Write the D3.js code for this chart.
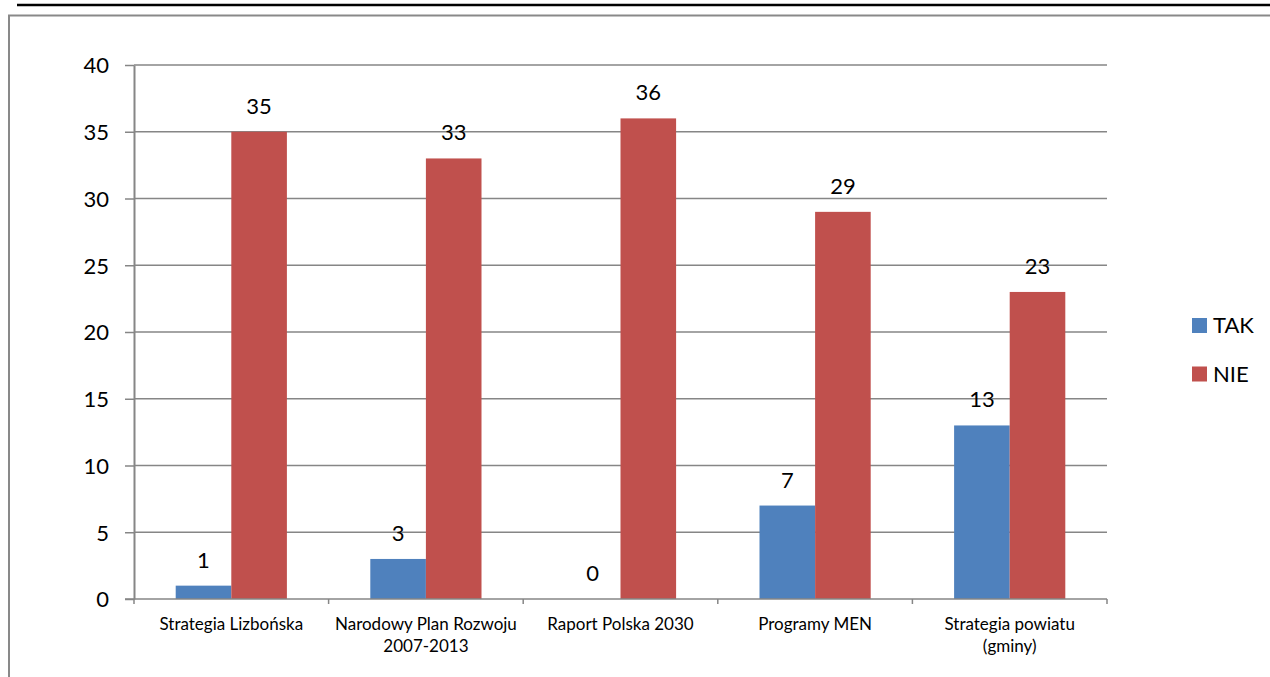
<!DOCTYPE html>
<html>
<head>
<meta charset="utf-8">
<script src="https://cdn.jsdelivr.net/npm/d3@7"></script>
<style>
  html, body { margin: 0; padding: 0; background: #fff; }
  svg { display: block; }
  text { font-family: Lato, "Open Sans", sans-serif; fill: #000; }
</style>
</head>
<body>
<svg id="chart" width="1270" height="677"></svg>
<script>
const categories = [
  "Strategia Lizbońska",
  "Narodowy Plan Rozwoju\n2007-2013",
  "Raport Polska 2030",
  "Programy MEN",
  "Strategia powiatu\n(gminy)"
];
const seriesNames = ["TAK", "NIE"];
const takValues = [1, 3, 0, 7, 13];
const nieValues = [35, 33, 36, 29, 23];
const yTicks = [0, 5, 10, 15, 20, 25, 30, 35, 40];
const colors = ["#4F81BD", "#C0504D"];

(function () {
const svg = d3.select("#chart");
const W = 1270, H = 677;

// page frame
svg.append("line").attr("x1", 17).attr("x2", W).attr("y1", 5).attr("y2", 5)
  .attr("stroke", "#000").attr("stroke-width", 2.5);
svg.append("rect").attr("x", 9).attr("y", 15.5).attr("width", W + 20).attr("height", H + 20)
  .attr("fill", "none").attr("stroke", "#898989").attr("stroke-width", 2);

const pLeft = 134, pRight = 1107, pTop = 65, pBottom = 599;
const x = d3.scaleBand().domain(categories).range([pLeft, pRight]).paddingInner(0).paddingOuter(0);
const xs = d3.scaleBand().domain(seriesNames).range([0, x.bandwidth()]).paddingInner(0).paddingOuter(0.75);
const y = d3.scaleLinear().domain([0, 40]).range([pBottom, pTop]);

const axisColor = "#868686";

// gridlines
svg.append("g").selectAll("line").data(yTicks.filter(t => t > 0)).join("line")
  .attr("x1", pLeft).attr("x2", pRight)
  .attr("y1", d => y(d)).attr("y2", d => y(d))
  .attr("stroke", axisColor).attr("stroke-width", 1.5);

// bars
const data = categories.map((c, i) => ({ cat: c, vals: [takValues[i], nieValues[i]] }));
const groups = svg.append("g").selectAll("g").data(data).join("g")
  .attr("transform", d => `translate(${x(d.cat)},0)`);
groups.selectAll("rect").data(d => d.vals.map((v, j) => ({ v, s: seriesNames[j], j })))
  .join("rect")
  .attr("x", d => xs(d.s)).attr("width", xs.bandwidth())
  .attr("y", d => y(d.v)).attr("height", d => y(0) - y(d.v))
  .attr("fill", d => colors[d.j]);
groups.selectAll("text.lbl").data(d => d.vals.map((v, j) => ({ v, s: seriesNames[j] })))
  .join("text").attr("class", "lbl")
  .attr("x", d => xs(d.s) + xs.bandwidth() / 2)
  .attr("y", d => y(d.v) - 18)
  .attr("text-anchor", "middle")
  .attr("font-size", 22)
  .text(d => d.v);

// y axis
const yAxis = d3.axisLeft(y).tickValues(yTicks).tickSizeInner(9).tickSizeOuter(0).tickPadding(16);
const gy = svg.append("g").attr("transform", `translate(${pLeft},0)`).call(yAxis);
gy.select(".domain").attr("stroke", axisColor).attr("stroke-width", 2);
gy.selectAll(".tick line").attr("stroke", axisColor).attr("stroke-width", 1.5);
gy.selectAll(".tick text").attr("font-size", 22).attr("font-family", "Lato, sans-serif")
  .attr("fill", "#000").attr("dy", "0.36em");

// x axis baseline and boundary ticks
const boundaries = d3.range(categories.length + 1).map(i => x.range()[0] + i * x.step());
const gx = svg.append("g");
gx.append("line").attr("x1", pLeft - 9).attr("x2", pRight).attr("y1", y(0)).attr("y2", y(0))
  .attr("stroke", axisColor).attr("stroke-width", 1.5);
gx.selectAll("line.bt").data(boundaries).join("line").attr("class", "bt")
  .attr("x1", d => d).attr("x2", d => d)
  .attr("y1", y(0)).attr("y2", y(0) + 5)
  .attr("stroke", axisColor).attr("stroke-width", 1.5);
gx.selectAll("text").data(categories).join("text")
  .attr("text-anchor", "middle")
  .attr("font-size", 17)
  .attr("transform", d => `translate(${x(d) + x.bandwidth() / 2},${y(0) + 31})`)
  .each(function (d) {
    d.split("\n").forEach((line, i) => {
      d3.select(this).append("tspan").attr("x", 0).attr("y", i * 22).text(line);
    });
  });

// legend
const lg = svg.append("g").attr("transform", "translate(1192,0)");
seriesNames.forEach((s, i) => {
  const by = 333 + i * 48.5;
  lg.append("rect").attr("x", 0).attr("y", by - 15).attr("width", 15).attr("height", 15).attr("fill", colors[i]);
  lg.append("text").attr("x", 21).attr("y", by).attr("font-size", 22).text(s);
});
})();
</script>
</body>
</html>
